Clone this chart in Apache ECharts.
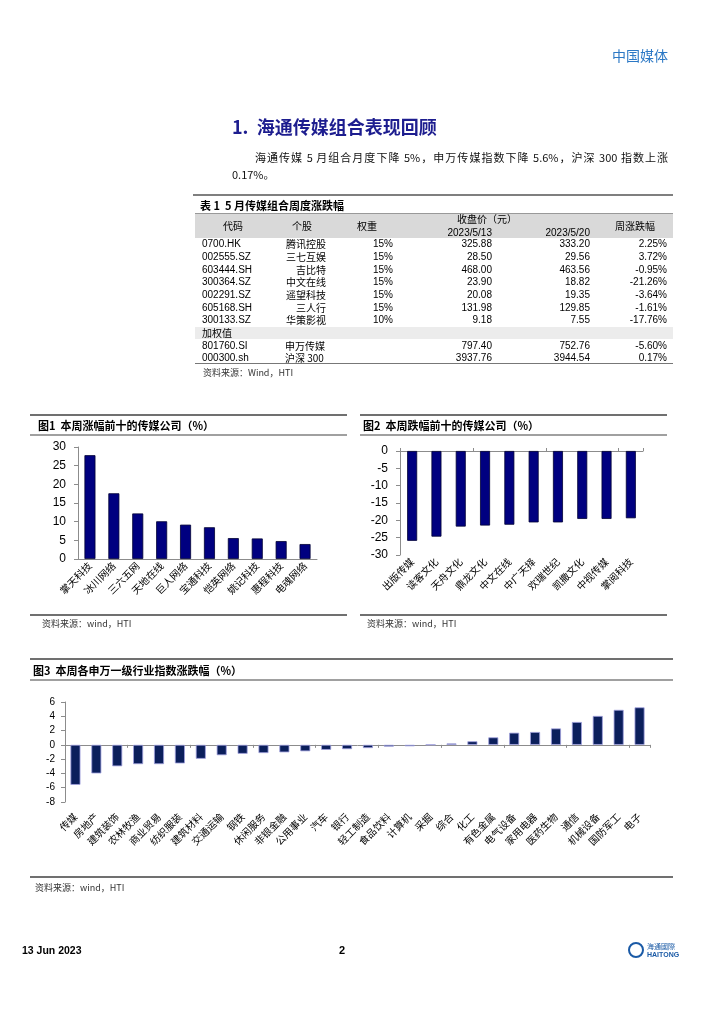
<!DOCTYPE html>
<html><head><meta charset="utf-8">
<script src="https://cdn.jsdelivr.net/npm/echarts/dist/echarts.min.js"></script>
<style>
html,body{margin:0;padding:0;background:#fff;}
#page{position:relative;width:725px;height:1024px;overflow:hidden;font-family:"Noto Sans CJK SC","Liberation Sans",sans-serif;color:#000;}
#chart{position:absolute;left:0;top:0;width:725px;height:1024px;z-index:0;}
.t{position:absolute;white-space:nowrap;line-height:1;z-index:2;}
.hl{position:absolute;height:0;z-index:2;}
.bg{position:absolute;z-index:1;}
</style></head>
<body><div id="page"><div id="chart"></div></div>
<script>
// ---------- data ----------
const stockCodes = ['0700.HK','002555.SZ','603444.SH','300364.SZ','002291.SZ','605168.SH','300133.SZ'];
const stockNames = ['腾讯控股','三七互娱','吉比特','中文在线','遥望科技','三人行','华策影视'];
const stockWeights = ['15%','15%','15%','15%','15%','15%','10%'];
const stockClose0513 = ['325.88','28.50','468.00','23.90','20.08','131.98','9.18'];
const stockClose0520 = ['333.20','29.56','463.56','18.82','19.35','129.85','7.55'];
const stockChange = ['2.25%','3.72%','-0.95%','-21.26%','-3.64%','-1.61%','-17.76%'];
const indexCodes = ['801760.SI','000300.sh'];
const indexNames = ['申万传媒','沪深 300'];
const indexClose0513 = ['797.40','3937.76'];
const indexClose0520 = ['752.76','3944.54'];
const indexChange = ['-5.60%','0.17%'];

const gainers = ['掌天科技','冰川网络','三六五网','天地在线','巨人网络','宝通科技','恺英网络','姚记科技','惠程科技','电魂网络'];
const gainValues = [27.8,17.6,12.2,10.1,9.2,8.5,5.6,5.5,4.8,4.0];
const losers = ['出版传媒','读客文化','天舟文化','鼎龙文化','中文在线','中广天择','欢瑞世纪','凯撒文化','中视传媒','掌阅科技'];
const loseValues = [-25.9,-24.7,-21.8,-21.5,-21.26,-20.6,-20.6,-19.6,-19.6,-19.4];
const industries = ['传媒','房地产','建筑装饰','农林牧渔','商业贸易','纺织服装','建筑材料','交通运输','钢铁','休闲服务','非银金融','公用事业','汽车','银行','轻工制造','食品饮料','计算机','采掘','综合','化工','有色金属','电气设备','家用电器','医药生物','通信','机械设备','国防军工','电子'];
const industryValues = [-5.60,-4.0,-3.0,-2.7,-2.7,-2.6,-1.95,-1.45,-1.25,-1.15,-1.05,-0.9,-0.7,-0.6,-0.45,-0.25,-0.2,0.03,0.2,0.5,1.05,1.7,1.8,2.3,3.2,4.05,4.9,5.25];

// ---------- page text ----------
const page = document.getElementById('page');
function T(x, y, s, st, align){
  const d = document.createElement('div');
  d.className = 't';
  d.textContent = s;
  d.style.left = x + 'px';
  d.style.top = y + 'px';
  let tx = '0';
  if (align === 'r') tx = '-100%';
  else if (align === 'c') tx = '-50%';
  d.style.transform = 'translate(' + tx + ',-50%)';
  Object.assign(d.style, st || {});
  page.appendChild(d);
  return d;
}
function HL(x1, x2, y, w, c){
  const d = document.createElement('div');
  d.className = 'hl';
  d.style.left = x1 + 'px'; d.style.width = (x2 - x1) + 'px';
  d.style.top = (y - w/2) + 'px';
  d.style.borderTop = w + 'px solid ' + c;
  page.appendChild(d);
}
function BG(x, y, w, h, c){
  const d = document.createElement('div');
  d.className = 'bg';
  Object.assign(d.style, {left:x+'px', top:y+'px', width:w+'px', height:h+'px', background:c});
  page.appendChild(d);
}
const num = {fontFamily:'"Liberation Sans",Arial,sans-serif', fontSize:'10px'};
const cjk = {fontFamily:'"Noto Sans CJK SC",sans-serif', fontSize:'10px'};
const src = {fontFamily:'"Noto Sans CJK SC","Liberation Sans",sans-serif', fontSize:'9px', color:'#333'};

T(612, 55, '中国媒体', {fontSize:'14px', color:'#2b78c5'});
T(232, 126, '1.  海通传媒组合表现回顾', {fontSize:'18px', fontWeight:'bold', color:'#1d1d8f', whiteSpace:'pre'});
const para = document.createElement('div');
para.className = 't';
Object.assign(para.style, {left:'232px', top:'149px', width:'436px', whiteSpace:'normal', fontSize:'11px', lineHeight:'17px', textIndent:'23px', textAlign:'justify', color:'#111'});
para.textContent = '海通传媒 5 月组合月度下降 5%，申万传媒指数下降 5.6%，沪深 300 指数上涨 0.17%。';
page.appendChild(para);

// table
HL(193, 673, 195, 2, '#7f7f7f');
T(200, 205, '表 1  5 月传媒组合周度涨跌幅', {fontSize:'11px', fontWeight:'bold', whiteSpace:'pre'});
BG(195, 213, 478, 25, '#d9d9d9');
HL(195, 673, 213, 1, '#999');
T(233, 226, '代码', cjk, 'c');
T(302, 226, '个股', cjk, 'c');
T(367, 226, '权重', cjk, 'c');
T(487, 219, '收盘价（元）', cjk, 'c');
T(492, 233, '2023/5/13', num, 'r');
T(590, 233, '2023/5/20', num, 'r');
T(635, 226, '周涨跌幅', cjk, 'c');
const rowY0 = 244.3, rowH = 12.67;
stockCodes.forEach((c, i) => {
  const y = rowY0 + i * rowH;
  T(202, y, c, num);
  T(326, y, stockNames[i], cjk, 'r');
  T(393, y, stockWeights[i], num, 'r');
  T(492, y, stockClose0513[i], num, 'r');
  T(590, y, stockClose0520[i], num, 'r');
  T(667, y, stockChange[i], num, 'r');
});
const wy = rowY0 + 7 * rowH;
BG(195, wy - 6, 478, 12.5, '#ececec');
T(202, wy, '加权值', cjk);
indexCodes.forEach((c, i) => {
  const y = rowY0 + (8 + i) * rowH;
  T(202, y, c, num);
  T(285, y, indexNames[i], cjk);
  T(492, y, indexClose0513[i], num, 'r');
  T(590, y, indexClose0520[i], num, 'r');
  T(667, y, indexChange[i], num, 'r');
});
HL(195, 673, 363, 1, '#777');
T(203, 372, '资料来源：Wind，HTI', src);

// figure frames
[[30,347],[360,667]].forEach(([a,b]) => { HL(a,b,415,2,'#707070'); HL(a,b,435,2,'#a0a0a0'); HL(a,b,615,2,'#707070'); });
T(38, 425, '图1  本周涨幅前十的传媒公司（%）', {fontSize:'11px', fontWeight:'bold', whiteSpace:'pre'});
T(363, 425, '图2  本周跌幅前十的传媒公司（%）', {fontSize:'11px', fontWeight:'bold', whiteSpace:'pre'});
T(42, 623, '资料来源：wind，HTI', src);
T(367, 623, '资料来源：wind，HTI', src);
HL(30, 673, 659, 2, '#707070'); HL(30, 673, 680, 2, '#a0a0a0'); HL(30, 673, 877, 2, '#707070');
T(33, 670, '图3  本周各申万一级行业指数涨跌幅（%）', {fontSize:'11px', fontWeight:'bold', whiteSpace:'pre'});
T(35, 887, '资料来源：wind，HTI', src);

// footer
T(22, 950, '13 Jun 2023', {fontFamily:'"Liberation Sans",sans-serif', fontSize:'10.5px', fontWeight:'bold'});
T(339, 950, '2', {fontFamily:'"Liberation Sans",sans-serif', fontSize:'11px', fontWeight:'bold'});
const logo = document.createElement('div');
Object.assign(logo.style, {position:'absolute', left:'628px', top:'942px', width:'12px', height:'12px', border:'2px solid #1a5aa6', borderRadius:'50%', zIndex:2});
page.appendChild(logo);
T(647, 946, '海通國際', {fontSize:'7px', color:'#1a5aa6'});
T(647, 954, 'HAITONG', {fontFamily:'"Liberation Sans",sans-serif', fontSize:'7px', fontWeight:'bold', color:'#1a5aa6'});

// ---------- charts ----------
const chart = echarts.init(document.getElementById('chart'), null, {renderer:'canvas'});
const axisGray = '#8c8c8c';
const catLabel = {rotate:45, interval:0, fontSize:10, color:'#000', fontFamily:'"Noto Sans CJK SC",sans-serif'};
const yLabelBig = {fontSize:12, color:'#000', fontFamily:'"Liberation Sans",Arial,sans-serif', margin:12};
const yLabelSmall = {fontSize:10, color:'#000', fontFamily:'"Liberation Sans",Arial,sans-serif', margin:10};
chart.setOption({
  animation:false,
  textStyle:{fontFamily:'"Noto Sans CJK SC","Liberation Sans",sans-serif'},
  grid:[
    {left:78, top:447, width:239, height:112},
    {left:400, top:451, width:243, height:104},
    {left:65, top:702, width:585, height:100}
  ],
  xAxis:[
    {gridIndex:0, type:'category', data:gainers, axisLine:{lineStyle:{color:axisGray}}, axisTick:{length:4, lineStyle:{color:axisGray}}, axisLabel:Object.assign({margin:5}, catLabel)},
    {gridIndex:1, type:'category', data:losers, position:'bottom', axisLine:{show:false, onZero:false}, axisTick:{show:false}, axisLabel:Object.assign({margin:5}, catLabel)},
    {gridIndex:1, type:'category', data:losers, position:'top', axisLine:{show:true, onZero:false, lineStyle:{color:axisGray}}, axisTick:{show:true, length:3, lineStyle:{color:axisGray}}, axisLabel:{show:false}},
    {gridIndex:2, type:'category', data:industries, position:'bottom', axisLine:{show:false, onZero:false}, axisTick:{show:false}, axisLabel:Object.assign({margin:13}, catLabel)},
    {gridIndex:2, type:'category', data:industries, position:'bottom', axisLine:{show:true, onZero:true, lineStyle:{color:axisGray}}, axisTick:{show:true, length:3, lineStyle:{color:axisGray}}, axisLabel:{show:false}}
  ],
  yAxis:[
    {gridIndex:0, type:'value', min:0, max:30, interval:5, splitLine:{show:false}, axisLine:{show:true, lineStyle:{color:axisGray}}, axisTick:{show:true, length:4, lineStyle:{color:axisGray}}, axisLabel:yLabelBig},
    {gridIndex:1, type:'value', min:-30, max:0, interval:5, splitLine:{show:false}, axisLine:{show:true, lineStyle:{color:axisGray}}, axisTick:{show:true, length:4, lineStyle:{color:axisGray}}, axisLabel:yLabelBig},
    {gridIndex:2, type:'value', min:-8, max:6, interval:2, splitLine:{show:false}, axisLine:{show:true, lineStyle:{color:axisGray}}, axisTick:{show:true, length:4, lineStyle:{color:axisGray}}, axisLabel:yLabelSmall}
  ],
  series:[
    {type:'bar', xAxisIndex:0, yAxisIndex:0, data:gainValues, barWidth:11, itemStyle:{color:'#000080', borderColor:'#000033', borderWidth:0.8}},
    {type:'bar', xAxisIndex:1, yAxisIndex:1, data:loseValues, barWidth:10, itemStyle:{color:'#000080', borderColor:'#000033', borderWidth:0.8}},
    {type:'bar', xAxisIndex:3, yAxisIndex:2, data:industryValues, barWidth:10, itemStyle:{color:'#0b1f5c', borderColor:'#a0a0dd', borderWidth:0.8}}
  ]
});
</script>
</body></html>
